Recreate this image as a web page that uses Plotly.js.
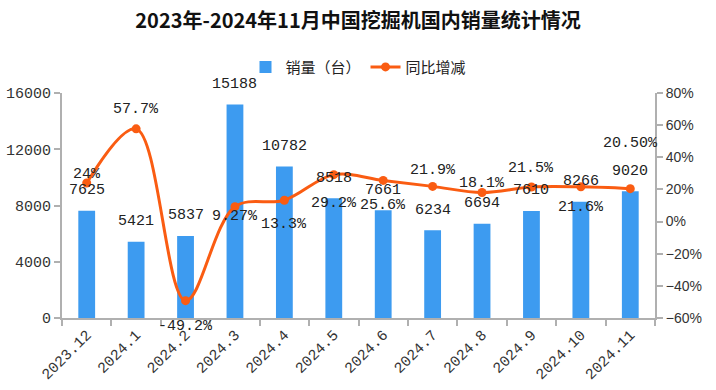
<!DOCTYPE html>
<html>
<head>
<meta charset="utf-8">
<script src="https://cdn.plot.ly/plotly-3.0.1.min.js"></script>
<style>html,body{margin:0;padding:0;background:#fff;}#chart{width:716px;height:390px;}</style>
</head>
<body>
<div id="chart"></div>
<script>
const months = ["2023.12","2024.1","2024.2","2024.3","2024.4","2024.5","2024.6","2024.7","2024.8","2024.9","2024.10","2024.11"];
const sales = [7625, 5421, 5837, 15188, 10782, 8518, 7661, 6234, 6694, 7610, 8266, 9020];
const yoy = [24, 57.7, -49.2, 9.27, 13.3, 29.2, 25.6, 21.9, 18.1, 21.5, 21.6, 20.5];
const yoyLabels = ["24%","57.7%","-49.2%","9.27%","13.3%","29.2%","25.6%","21.9%","18.1%","21.5%","21.6%","20.50%"];

// label offsets (pixels, style only)
const yoyLabelShift = [9, 19, -26, -10, -24, -29, -25, 16, 9, 19, -21, 45];
const barLabelShift = 20;

const numFont = {family: "Liberation Mono, monospace", size: 15, color: "#222"};

const annotations = [];
months.forEach((m, i) => {
  // category axis: annotation x given as category index
  annotations.push({x: i, y: sales[i], xref: "x", yref: "y", text: String(sales[i]),
    showarrow: false, yshift: barLabelShift, yanchor: "middle", font: numFont});
  annotations.push({x: i, y: yoy[i], xref: "x", yref: "y2", text: yoyLabels[i],
    showarrow: false, yshift: yoyLabelShift[i], yanchor: "middle", font: numFont});
});

const traces = [
  {type: "bar", name: "销量（台）", x: months, y: sales, marker: {color: "#3d9bf0"}, xaxis: "x", yaxis: "y", hoverinfo: "skip"},
  {type: "scatter", mode: "lines+markers", name: "同比增减", x: months, y: yoy, xaxis: "x", yaxis: "y2",
   line: {color: "#fa5c12", width: 3, shape: "spline", smoothing: 1}, marker: {color: "#fa5c12", size: 9}, hoverinfo: "skip"}
];

const layout = {
  width: 716, height: 390,
  margin: {l: 62, r: 61, t: 93, b: 72},
  paper_bgcolor: "#fff", plot_bgcolor: "#fff",
  title: {text: "<b>2023年-2024年11月中国挖掘机国内销量统计情况</b>", x: 0.5, xanchor: "center", y: 0.945, yanchor: "middle",
    font: {family: "Noto Sans CJK SC, sans-serif", size: 20, color: "#111"}},
  showlegend: true,
  legend: {orientation: "h", x: 0.5, xanchor: "center", y: 1.115, yanchor: "middle",
    font: {family: "Noto Sans CJK SC, sans-serif", size: 15, color: "#222"}, itemwidth: 30, tracegroupgap: 0},
  bargap: 0.66,
  xaxis: {type: "category", range: [-0.5, 11.5], showline: true, linecolor: "#b0b0b0", linewidth: 2, ticks: "outside", tickson: "boundaries",
    ticklen: 6, tickcolor: "#b0b0b0", tickwidth: 2, tickangle: -45, showgrid: false, zeroline: false,
    tickfont: {family: "Liberation Mono, monospace", size: 15, color: "#333"}},
  yaxis: {range: [0, 16000], dtick: 4000, tickformat: "d", showline: true, linecolor: "#b0b0b0", linewidth: 2, ticks: "outside",
    ticklen: 6, tickcolor: "#b0b0b0", tickwidth: 2, showgrid: false, zeroline: false,
    tickfont: {family: "Liberation Mono, monospace", size: 15, color: "#333"}},
  yaxis2: {range: [-60, 80], dtick: 20, overlaying: "y", side: "right", ticksuffix: "%", showline: true, linecolor: "#b0b0b0",
    linewidth: 2, ticks: "outside", ticklen: 6, tickcolor: "#b0b0b0", tickwidth: 2, showgrid: false, zeroline: false,
    tickfont: {family: "Liberation Sans, sans-serif", size: 14, color: "#333"}},
  annotations: annotations
};

Plotly.newPlot("chart", traces, layout, {displayModeBar: false, staticPlot: true});
</script>
</body>
</html>
